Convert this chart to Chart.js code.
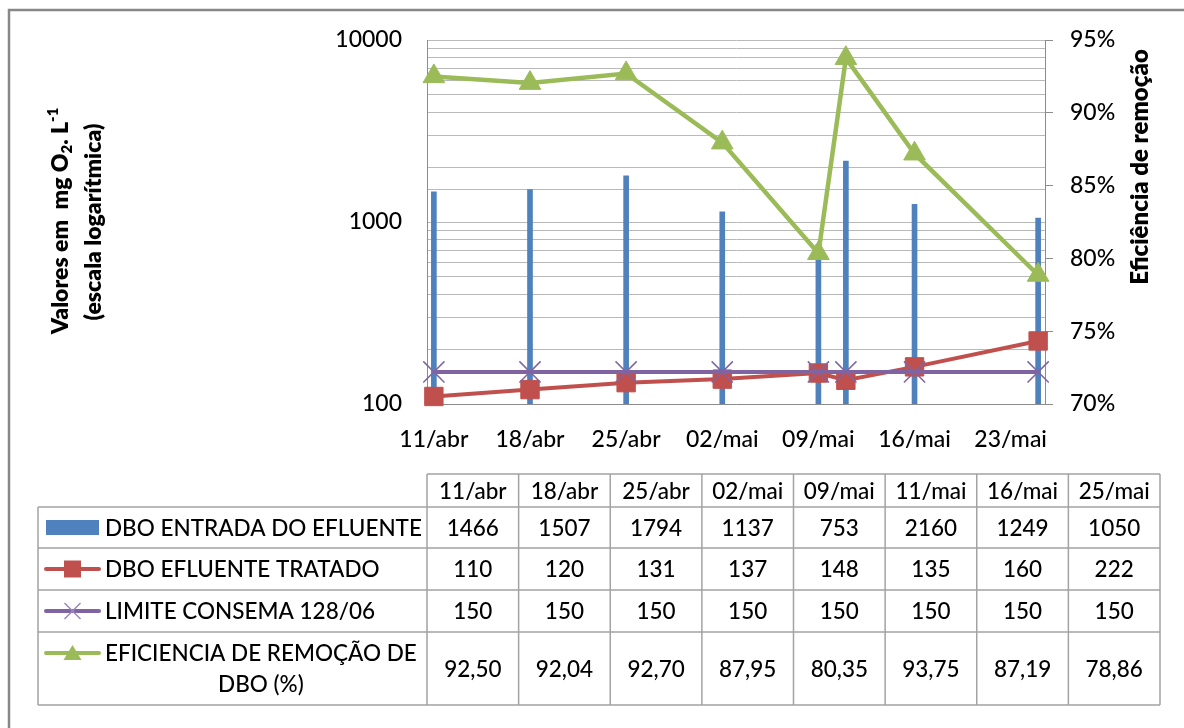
<!DOCTYPE html>
<html lang="pt">
<head>
<meta charset="utf-8">
<title>DBO – entrada, efluente tratado e eficiência de remoção</title>
<script src="https://cdn.jsdelivr.net/npm/chart.js@4.4.1/dist/chart.umd.min.js"></script>
<style>
  html, body { margin: 0; padding: 0; background: #ffffff; }
  #wrap { position: relative; width: 1184px; height: 728px; }
  canvas { display: block; }
</style>
</head>
<body>
<div id="wrap"><canvas id="chart" width="1184" height="728"></canvas></div>
<script>
// Datas de coleta (dia/mês abreviado)
const sampleDates = ['11/abr', '18/abr', '25/abr', '02/mai', '09/mai', '11/mai', '16/mai', '25/mai'];
// Rótulos do eixo de datas (intervalo semanal)
const axisDateLabels = ['11/abr', '18/abr', '25/abr', '02/mai', '09/mai', '16/mai', '23/mai'];

// Séries (mg O2/L e %)
const dboEntrada = [1466, 1507, 1794, 1137, 753, 2160, 1249, 1050];
const dboTratado = [110, 120, 131, 137, 148, 135, 160, 222];
const limiteConsema = [150, 150, 150, 150, 150, 150, 150, 150];
const eficienciaRemocao = [92.50, 92.04, 92.70, 87.95, 80.35, 93.75, 87.19, 78.86];

// Nomes das séries, como aparecem na tabela de dados
const seriesNames = [
  'DBO ENTRADA DO EFLUENTE',
  'DBO EFLUENTE TRATADO',
  'LIMITE CONSEMA 128/06',
  ['EFICIENCIA DE REMOÇÃO DE', 'DBO (%)']
];

// Rótulos dos eixos verticais
const leftAxisLabels = [100, 1000, 10000];
const rightAxisTicks = [70, 75, 80, 85, 90, 95];

const COLORS = { blue: '#4F81BD', red: '#C0504D', purple: '#8064A2', green: '#9BBB59' };
const FONT = 'Lato, "Open Sans", "DejaVu Sans", sans-serif';
const TEXT_SIZE = 23;
const TABLE_SIZE = 22.5;
const TEXT_WEIGHT = 500;
const TITLE_WEIGHT = 800;

// Converte "dd/mmm" em número de dias
const MONTHS = { jan: 0, fev: 1, mar: 2, abr: 3, mai: 4, jun: 5, jul: 6, ago: 7, set: 8, out: 9, nov: 10, dez: 11 };
function dayNumber(label) {
  const [d, m] = label.split('/');
  return Date.UTC(2000, MONTHS[m], Number(d)) / 86400000;
}
const firstDay = dayNumber(sampleDates[0]);
const sampleDays = sampleDates.map(l => dayNumber(l) - firstDay);
const axisDays = axisDateLabels.map(l => dayNumber(l) - firstDay);

const toPoints = values => values.map((v, i) => ({ x: sampleDays[i], y: v }));

// Texto rotacionado com partes em subscrito/sobrescrito
function drawRotatedRich(ctx, cx, cy, segments, size, weight) {
  ctx.save();
  ctx.translate(cx, cy);
  ctx.rotate(-Math.PI / 2);
  ctx.textBaseline = 'middle';
  ctx.textAlign = 'left';
  ctx.fillStyle = '#000';
  let total = 0;
  const parts = segments.map(s => {
    const fs = size * (s.scale || 1);
    ctx.font = `${weight} ${fs}px ${FONT}`;
    const w = ctx.measureText(s.text).width;
    total += w;
    return { text: s.text, fs, w, shift: s.shift || 0 };
  });
  let u = -total / 2;
  parts.forEach(p => {
    ctx.font = `${weight} ${p.fs}px ${FONT}`;
    ctx.fillText(p.text, u, p.shift * size);
    u += p.w;
  });
  ctx.restore();
}

// Moldura, títulos dos eixos e tabela de dados
const decorPlugin = {
  id: 'decor',
  afterDraw(chart) {
    const ctx = chart.ctx;
    ctx.save();

    // moldura da área do gráfico
    ctx.strokeStyle = '#878787';
    ctx.lineWidth = 2.5;
    ctx.beginPath();
    ctx.moveTo(9, 730);
    ctx.lineTo(9, 10);
    ctx.lineTo(1190, 10);
    ctx.stroke();

    // título do eixo esquerdo (duas linhas)
    drawRotatedRich(ctx, 61, 221, [
      { text: 'Valores em  mg O' },
      { text: '2', scale: 0.65, shift: 0.28 },
      { text: '. L' },
      { text: '-1', scale: 0.65, shift: -0.36 }
    ], TEXT_SIZE, TITLE_WEIGHT);
    drawRotatedRich(ctx, 94, 222, [{ text: '(escala logarítmica)' }], TEXT_SIZE, TITLE_WEIGHT);

    // título do eixo direito
    drawRotatedRich(ctx, 1140, 167, [{ text: 'Eficiência de remoção' }], 24, TITLE_WEIGHT);

    // tabela de dados
    const tableLeft = 38, colLeft = 427, colRight = 1160;
    const headTop = 474;
    const rowEdges = [507, 548, 590, 632, 705];
    const n = sampleDates.length;
    const cw = (colRight - colLeft) / n;

    ctx.strokeStyle = '#a3a3a3';
    ctx.lineWidth = 1.5;
    ctx.beginPath();
    ctx.moveTo(colLeft, headTop); ctx.lineTo(colRight, headTop);
    rowEdges.forEach(y => { ctx.moveTo(tableLeft, y); ctx.lineTo(colRight, y); });
    ctx.moveTo(tableLeft, rowEdges[0]); ctx.lineTo(tableLeft, rowEdges[rowEdges.length - 1]);
    for (let i = 0; i <= n; i++) {
      const x = colLeft + i * cw;
      ctx.moveTo(x, headTop); ctx.lineTo(x, rowEdges[rowEdges.length - 1]);
    }
    ctx.stroke();

    const tableFont = `${TEXT_WEIGHT} ${TABLE_SIZE}px ${FONT}`;
    ctx.fillStyle = '#000';
    ctx.font = tableFont;
    ctx.textAlign = 'center';
    ctx.textBaseline = 'middle';
    sampleDates.forEach((d, i) => ctx.fillText(d, colLeft + (i + 0.5) * cw, (headTop + rowEdges[0]) / 2 + 1));

    const rowsValues = [
      dboEntrada.map(String),
      dboTratado.map(String),
      limiteConsema.map(String),
      eficienciaRemocao.map(v => v.toFixed(2).replace('.', ','))
    ];
    rowsValues.forEach((vals, r) => {
      const yc = (rowEdges[r] + rowEdges[r + 1]) / 2 + 1;
      vals.forEach((t, i) => ctx.fillText(t, colLeft + (i + 0.5) * cw, yc));
    });

    // chaves da legenda e nomes das séries
    const keyL = 46, keyR = 99, keyC = (keyL + keyR) / 2, textX = 105;
    seriesNames.forEach((name, r) => {
      const lines = Array.isArray(name) ? name : [name];
      const rowC = (rowEdges[r] + rowEdges[r + 1]) / 2;
      const lineH = 31;
      const firstY = rowC - (lines.length - 1) * lineH / 2;

      // chave
      const ky = firstY;
      if (r === 0) {
        ctx.fillStyle = COLORS.blue;
        ctx.fillRect(keyL, ky - 7.5, keyR - keyL, 15);
      } else {
        const col = [null, COLORS.red, COLORS.purple, COLORS.green][r];
        ctx.strokeStyle = col;
        ctx.lineWidth = 4;
        ctx.lineCap = 'round';
        ctx.beginPath(); ctx.moveTo(keyL, ky); ctx.lineTo(keyR, ky); ctx.stroke();
        ctx.lineCap = 'butt';
        if (r === 1) {
          ctx.fillStyle = col;
          ctx.fillRect(keyC - 8.5, ky - 8.5, 17, 17);
        } else if (r === 2) {
          ctx.lineWidth = 1.5;
          ctx.strokeStyle = '#9b86bd';
          ctx.beginPath();
          ctx.moveTo(keyC - 8, ky - 8); ctx.lineTo(keyC + 8, ky + 8);
          ctx.moveTo(keyC - 8, ky + 8); ctx.lineTo(keyC + 8, ky - 8);
          ctx.stroke();
        } else {
          ctx.fillStyle = col;
          ctx.beginPath();
          ctx.moveTo(keyC, ky - 8); ctx.lineTo(keyC + 9, ky + 7); ctx.lineTo(keyC - 9, ky + 7);
          ctx.closePath(); ctx.fill();
        }
      }

      // texto
      ctx.fillStyle = '#000';
      ctx.font = tableFont;
      if (lines.length === 1) {
        ctx.textAlign = 'left';
        ctx.fillText(lines[0], textX, rowC + 1);
      } else {
        const widest = Math.max(...lines.map(l => ctx.measureText(l).width));
        const cx = textX + widest / 2;
        ctx.textAlign = 'center';
        lines.forEach((l, k) => ctx.fillText(l, cx, firstY + k * lineH + 1));
      }
    });

    ctx.restore();
  }
};

function build() {
  Chart.defaults.font.family = FONT;
  Chart.defaults.color = '#000';

  const tickFont = { size: TEXT_SIZE, weight: TEXT_WEIGHT };

  new Chart(document.getElementById('chart'), {
    type: 'bar',
    data: {
      datasets: [
        {
          type: 'bar',
          label: seriesNames[0],
          data: toPoints(dboEntrada),
          yAxisID: 'y',
          backgroundColor: COLORS.blue,
          barThickness: 5,
          order: 3
        },
        {
          type: 'line',
          label: seriesNames[1],
          data: toPoints(dboTratado),
          yAxisID: 'y',
          borderColor: COLORS.red,
          backgroundColor: COLORS.red,
          borderWidth: 4,
          pointStyle: 'rect',
          pointRadius: 13,
          pointBorderWidth: 1,
          pointBorderColor: COLORS.red,
          pointBackgroundColor: COLORS.red,
          clip: false,
          order: 2
        },
        {
          type: 'line',
          label: seriesNames[2],
          data: toPoints(limiteConsema),
          yAxisID: 'y',
          borderColor: COLORS.purple,
          backgroundColor: COLORS.purple,
          borderWidth: 4,
          pointStyle: 'crossRot',
          pointRadius: 15,
          pointBorderWidth: 1.5,
          pointBorderColor: COLORS.purple,
          clip: false,
          order: 1
        },
        {
          type: 'line',
          label: seriesNames[3].join(' '),
          data: toPoints(eficienciaRemocao),
          yAxisID: 'y2',
          borderColor: COLORS.green,
          backgroundColor: COLORS.green,
          borderWidth: 4.5,
          pointStyle: 'triangle',
          pointRadius: 12.5,
          pointBorderWidth: 1,
          pointBorderColor: COLORS.green,
          pointBackgroundColor: COLORS.green,
          clip: false,
          order: 0
        }
      ]
    },
    options: {
      responsive: false,
      animation: false,
      events: [],
      layout: { padding: { top: 40, left: 0, right: 0, bottom: 0 } },
      plugins: { legend: { display: false }, tooltip: { enabled: false } },
      scales: {
        x: {
          type: 'linear',
          position: 'bottom',
          min: sampleDays[0] - 0.5,
          max: sampleDays[sampleDays.length - 1] + 0.5,
          offset: false,
          grid: { display: true, drawOnChartArea: false, drawTicks: false, offset: false },
          border: { display: true, color: '#8c8c8c', width: 1 },
          afterBuildTicks: s => { s.ticks = axisDays.map(v => ({ value: v })); },
          ticks: {
            autoSkip: false, maxRotation: 0, padding: 22,
            font: tickFont,
            callback: v => axisDateLabels[axisDays.indexOf(v)]
          },
          afterFit: s => { s.height = 324; }
        },
        y: {
          type: 'logarithmic',
          position: 'left',
          min: 100,
          max: 10000,
          grid: { color: '#b9b9b9', lineWidth: 1, drawTicks: false },
          border: { display: true, color: '#8c8c8c', width: 1 },
          ticks: {
            autoSkip: false, padding: 25,
            font: tickFont,
            callback: v => leftAxisLabels.includes(Math.round(v)) ? String(Math.round(v)) : ''
          },
          afterFit: s => { s.width = 427; }
        },
        y2: {
          type: 'linear',
          position: 'right',
          min: 70,
          max: 95,
          grid: { drawOnChartArea: false, drawTicks: true, tickLength: 8, color: '#8c8c8c' },
          border: { display: true, color: '#8c8c8c', width: 1 },
          afterBuildTicks: s => { s.ticks = rightAxisTicks.map(v => ({ value: v })); },
          ticks: {
            padding: 17,
            font: tickFont,
            callback: v => v + '%'
          },
          afterFit: s => { s.width = 139; }
        }
      }
    },
    plugins: [decorPlugin]
  });
}

if (document.fonts && document.fonts.load) {
  Promise.all([
    document.fonts.load(`${TEXT_WEIGHT} ${TEXT_SIZE}px Lato`),
    document.fonts.load(`${TITLE_WEIGHT} ${TEXT_SIZE}px Lato`)
  ]).then(build, build);
} else {
  build();
}
</script>
</body>
</html>
